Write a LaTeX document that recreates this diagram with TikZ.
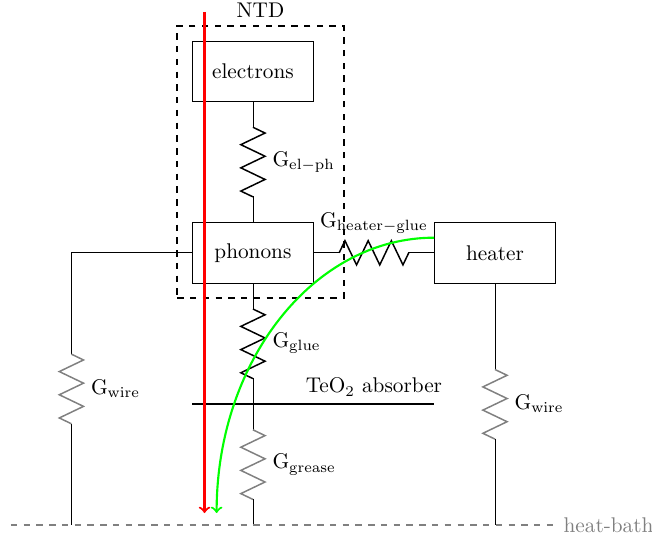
\documentclass[tikz,border=0pt]{standalone}
\usetikzlibrary{decorations.pathmorphing,positioning,calc}
\tikzstyle{block} = [draw, minimum width=2cm, minimum height=1cm]
\tikzstyle{flow} = [line width=1pt, ->]
\tikzset{
	lead/.style={decorate, decoration={moveto, pre=lineto, post=lineto, pre length=#1, post length=#1}},
	pics/res/.style={code={
		\draw[line width=0.7pt] (-0.575,0) -- ++(0.0958,0.2) -- ++(0.1917,-0.4) -- ++(0.1917,0.4)
			-- ++(0.1917,-0.4) -- ++(0.1917,0.4) -- ++(0.1917,-0.4) -- ++(0.0958,0.2);
	}}
}

\begin{document}
\begin{tikzpicture}
\useasboundingbox (-4.18,-0.231) rectangle (6.595,8.678);

\node[block] (electrons) at (0,7.5) {electrons};
\node[block] (phonons) at (0,4.5) {phonons};
\node[block] (heater) at (4,4.5) {heater};
\node[draw, line width=1pt, dashed, minimum width=2.75cm, minimum height=4.5cm, label=above:NTD] (ntd) at (0.125,6) {};

\coordinate (wireL) at (-3,4.5);
\coordinate (bathL) at (-3,0);
\coordinate (bathC) at (0,0);
\coordinate (bathR) at (4,0);
\coordinate (bathW) at (-4,0);
\coordinate (bathE) at (5,0);
\coordinate (absL) at (-1,2);
\coordinate (absC) at (0,2);
\coordinate (absR) at (3,2);

% couplings
\draw[lead=0.425cm] (electrons.south) -- (phonons.north);
\pic[rotate=-90] at ($(electrons.south)!0.5!(phonons.north)$) {res};
\draw[lead=0.425cm] (phonons.east) -- (heater.west);
\pic at ($(phonons.east)!0.5!(heater.west)$) {res};
\draw[lead=0.425cm] (phonons.south) -- (absC);
\pic[rotate=-90] at ($(phonons.south)!0.5!(absC)$) {res};
\draw[lead=0.425cm] (absC) -- (bathC);
\pic[rotate=-90, gray] at ($(absC)!0.5!(bathC)$) {res};
\draw (phonons.west) -- (wireL);
\draw[lead=1.675cm] (wireL) -- (bathL);
\pic[rotate=-90, gray] at ($(wireL)!0.5!(bathL)$) {res};
\draw[lead=1.425cm] (heater.south) -- (bathR);
\pic[rotate=-90, gray] at ($(heater.south)!0.5!(bathR)$) {res};

\node[right] (gelph) at (0.2,6) {$\mathrm{G_{el-ph}}$};
\node[above] (ghg) at (2,4.69) {$\mathrm{G_{heater-glue}}$};
\node[right] (gglue) at (0.2,3) {$\mathrm{G_{glue}}$};
\node[right] (ggrease) at (0.2,1) {$\mathrm{G_{grease}}$};
\node[right] (gwireL) at (-2.8,2.25) {$\mathrm{G_{wire}}$};
\node[right] (gwireR) at (4.2,2) {$\mathrm{G_{wire}}$};

\draw[thick] (absL) -- (absR) node[pos=0.75, above] (absorber) {TeO$_2$ absorber};
\draw[gray, line width=1pt, dashed] (bathW) -- (bathE) node[right] (bath) {heat-bath};

% heat flow
\coordinate (redtop) at (-0.8,8.48);
\coordinate (redend) at (-0.8,0.2);
\coordinate (greenstart) at ($(heater.west)+(0,0.25)$);
\coordinate (greenend) at (-0.6,0.2);
\draw[flow, green] (greenstart) .. controls ($(greenstart)+(-1.99,0)$) and ($(greenend)+(0,2.51)$) .. (greenend);
\draw[flow, red] (redtop) -- (redend);

\end{tikzpicture}
\end{document}
